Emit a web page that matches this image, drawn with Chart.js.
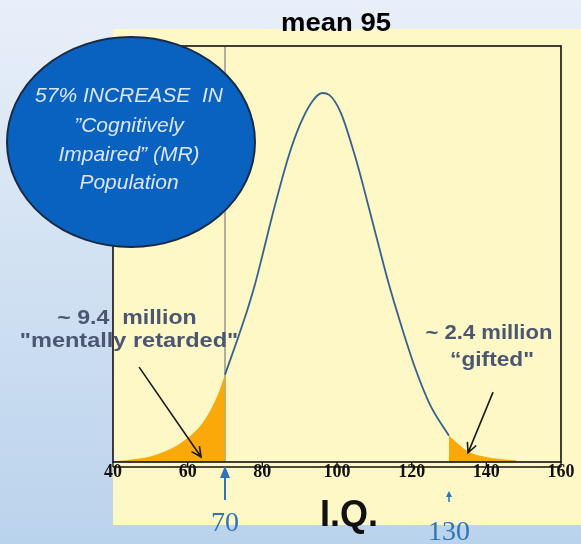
<!DOCTYPE html>
<html>
<head>
<meta charset="utf-8">
<script src="https://cdn.jsdelivr.net/npm/chart.js@4.4.1/dist/chart.umd.min.js"></script>
<style>
  body { margin: 0; }
  #wrap { width: 581px; height: 544px; }
</style>
</head>
<body>
<div id="wrap"><canvas id="iqChart" width="581" height="544"></canvas></div>
<script>
const iqValues = [40, 44, 50, 56, 60, 64, 68, 70, 73, 76, 78, 80, 83, 87, 90, 93, 96, 98, 101, 105, 108, 111, 114, 117, 121, 125, 130, 135, 140, 145, 148];
const curveHeights = [0.2, 0.5, 1.3, 3.4, 5.8, 9.4, 16.0, 21.0, 28.6, 36.6, 42.6, 49.6, 60.4, 73.4, 80.9, 86.2, 88.7, 88.2, 84.0, 73.0, 63.0, 52.6, 42.4, 33.4, 22.4, 13.6, 6.3, 2.6, 1.2, 0.6, 0.4];
const xTicks = [40, 60, 80, 100, 120, 140, 160];
const lowCut = 70;
const highCut = 130;
const titleText = 'mean 95';
const axisTitle = 'I.Q.';
const bubbleLines = ['57% INCREASE  IN', '\u201dCognitively', 'Impaired\u201d (MR)', 'Population'];
const lowLabel = ['~ 9.4  million', '"mentally retarded"'];
const highLabel = ['~ 2.4 million', '\u201cgifted"'];

const points = iqValues.map((x, i) => ({ x: x, y: curveHeights[i] }));
const leftTail = points.filter(p => p.x <= lowCut);
const rightTail = points.filter(p => p.x >= highCut);
const middle = points.filter(p => p.x >= lowCut && p.x <= highCut);

function wideText(ctx, text, x, y, sx) {
  ctx.save();
  ctx.translate(x, y);
  ctx.scale(sx, 1);
  ctx.fillText(text, 0, 0);
  ctx.restore();
}

function lineArrow(ctx, x1, y1, x2, y2, size) {
  const a = Math.atan2(y2 - y1, x2 - x1);
  ctx.beginPath();
  ctx.moveTo(x1, y1);
  ctx.lineTo(x2, y2);
  ctx.moveTo(x2 - size * Math.cos(a - 0.45), y2 - size * Math.sin(a - 0.45));
  ctx.lineTo(x2, y2);
  ctx.lineTo(x2 - size * Math.cos(a + 0.45), y2 - size * Math.sin(a + 0.45));
  ctx.stroke();
}

function upArrow(ctx, x, yTop, yBottom, headW, headH) {
  ctx.beginPath();
  ctx.moveTo(x, yBottom);
  ctx.lineTo(x, yTop + headH - 1);
  ctx.stroke();
  ctx.beginPath();
  ctx.moveTo(x, yTop);
  ctx.lineTo(x - headW / 2, yTop + headH);
  ctx.lineTo(x + headW / 2, yTop + headH);
  ctx.closePath();
  ctx.fill();
}

// background, yellow panel
const backdrop = {
  id: 'backdrop',
  beforeDraw(chart) {
    const ctx = chart.ctx;
    const g = ctx.createLinearGradient(0, 0, 0, chart.height);
    g.addColorStop(0, '#e8eff9');
    g.addColorStop(1, '#bad3ec');
    ctx.save();
    ctx.fillStyle = g;
    ctx.fillRect(0, 0, chart.width, chart.height);
    ctx.fillStyle = '#fdf8c5';
    ctx.fillRect(113, 29, chart.width - 113, 496);
    ctx.restore();
  }
};

// frame, labels, arrows and the blue bubble
const overlay = {
  id: 'overlay',
  afterDatasetsDraw(chart) {
    const ctx = chart.ctx;
    const a = chart.chartArea;
    const x = chart.scales.x;
    const y = chart.scales.y;
    ctx.save();
    ctx.strokeStyle = '#111';
    ctx.lineWidth = 1.6;
    ctx.strokeRect(a.left, a.top, a.right - a.left, a.bottom - a.top);
    ctx.beginPath();
    ctx.moveTo(a.left, a.bottom + 5);
    ctx.lineTo(a.right, a.bottom + 5);
    ctx.lineWidth = 1.3;
    xTicks.forEach(v => {
      const px = x.getPixelForValue(v);
      ctx.moveTo(px, a.bottom);
      ctx.lineTo(px, a.bottom + 5);
    });
    ctx.stroke();

    // title
    ctx.fillStyle = '#000';
    ctx.font = 'bold 25px "Liberation Sans", Arial, sans-serif';
    ctx.textAlign = 'center';
    ctx.textBaseline = 'middle';
    wideText(ctx, titleText, 336, 24, 1.1);

    // tail labels
    ctx.fillStyle = '#4a5672';
    ctx.font = 'bold 21px "Liberation Sans", Arial, sans-serif';
    wideText(ctx, lowLabel[0], 127, 318, 1.1);
    wideText(ctx, lowLabel[1], 129, 341, 1.12);
    wideText(ctx, highLabel[0], 489, 333, 1.05);
    wideText(ctx, highLabel[1], 492, 360, 1.08);

    // black arrows to the tails
    ctx.strokeStyle = '#1a1a1a';
    ctx.lineWidth = 1.6;
    lineArrow(ctx, x.getPixelForValue(47), y.getPixelForValue(22.8),
      x.getPixelForValue(63.6), y.getPixelForValue(1.2), 11);
    lineArrow(ctx, x.getPixelForValue(141.8), y.getPixelForValue(16.8),
      x.getPixelForValue(135.1), y.getPixelForValue(2.2), 11);

    // cut-off markers under the axis
    const px70 = x.getPixelForValue(lowCut);
    const px130 = x.getPixelForValue(highCut);
    ctx.strokeStyle = '#2e75b6';
    ctx.fillStyle = '#2e75b6';
    ctx.lineWidth = 2;
    upArrow(ctx, px70, a.bottom + 4, a.bottom + 38, 10, 12);
    ctx.lineWidth = 1.5;
    upArrow(ctx, px130, a.bottom + 29, a.bottom + 40, 6, 6);
    ctx.font = '28px "Liberation Serif", "Times New Roman", serif';
    ctx.fillText(String(lowCut), px70, 524);
    ctx.fillText(String(highCut), px130, 533);

    ctx.fillStyle = '#111';
    ctx.font = 'bold 36px "Liberation Sans", Arial, sans-serif';
    ctx.fillText(axisTitle, 349, 516);
    ctx.restore();
  },
  afterDraw(chart) {
    const ctx = chart.ctx;
    ctx.save();
    ctx.beginPath();
    ctx.ellipse(131, 142, 124, 105, 0, 0, Math.PI * 2);
    ctx.fillStyle = '#0a62c0';
    ctx.fill();
    ctx.strokeStyle = '#1b2a44';
    ctx.lineWidth = 2;
    ctx.stroke();
    ctx.fillStyle = '#dde5f4';
    ctx.font = 'italic 21px "Liberation Sans", Arial, sans-serif';
    ctx.textAlign = 'center';
    ctx.textBaseline = 'alphabetic';
    const baselines = [102, 132, 161, 189];
    bubbleLines.forEach((t, i) => ctx.fillText(t, 129, baselines[i]));
    ctx.restore();
  }
};

const tailStyle = {
  fill: 'origin',
  backgroundColor: '#fba90a',
  borderWidth: 0,
  pointRadius: 0,
  cubicInterpolationMode: 'monotone'
};

new Chart(document.getElementById('iqChart'), {
  type: 'line',
  data: {
    datasets: [
      Object.assign({ data: leftTail }, tailStyle),
      Object.assign({ data: rightTail }, tailStyle),
      {
        data: middle,
        borderColor: '#34628f',
        borderWidth: 1.8,
        fill: false,
        pointRadius: 0,
        cubicInterpolationMode: 'monotone'
      },
      {
        data: [{ x: lowCut, y: 0 }, { x: lowCut, y: 100 }],
        borderColor: '#7f7f7f',
        borderWidth: 1.2,
        fill: false,
        pointRadius: 0
      }
    ]
  },
  options: {
    responsive: false,
    animation: false,
    layout: { padding: { left: 113, right: 20, top: 46, bottom: 0 } },
    plugins: { legend: { display: false }, tooltip: { enabled: false } },
    scales: {
      x: {
        type: 'linear',
        min: 40,
        max: 160,
        afterFit: (scale) => { scale.height = 82; },
        afterBuildTicks: (scale) => { scale.ticks = xTicks.map(v => ({ value: v })); },
        grid: { display: false, drawTicks: false },
        border: { display: false },
        ticks: {
          padding: 0,
          color: '#111',
          font: { family: '"Liberation Serif", "Times New Roman", serif', size: 18, weight: 'bold' }
        }
      },
      y: {
        display: false,
        min: 0,
        max: 100
      }
    }
  },
  plugins: [backdrop, overlay]
});
</script>
</body>
</html>
